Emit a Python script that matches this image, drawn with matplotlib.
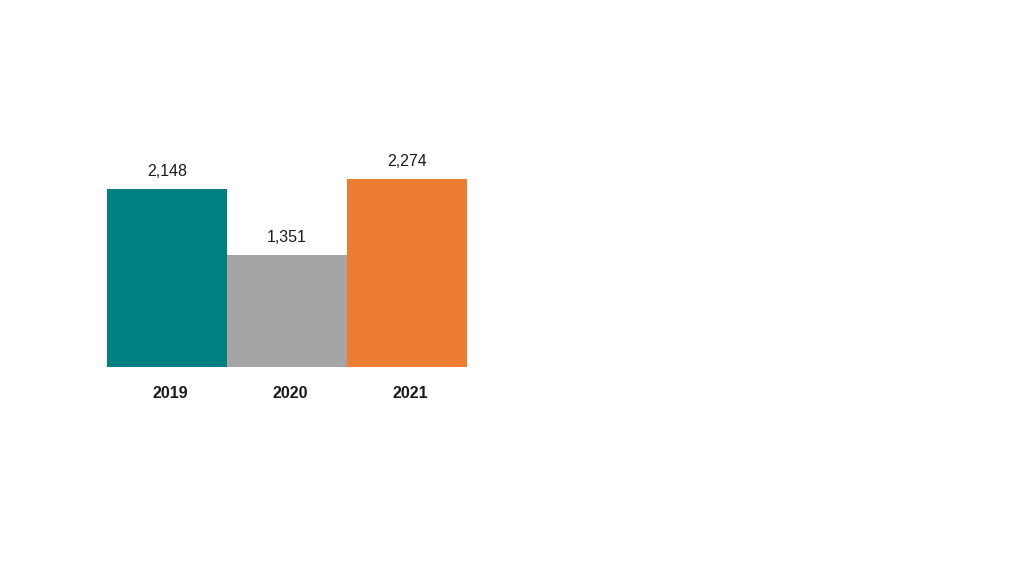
# Bar chart of yearly totals

import numpy as np
import matplotlib.pyplot as plt

plt.rcParams['font.family'] = ['Liberation Sans', 'DejaVu Sans']

# Data
years = ['2019', '2020', '2021']
values = [2148, 1351, 2274]
colors = ['#008080', '#A5A5A5', '#ED7D31']

fig = plt.figure(figsize=(10.24, 5.76), dpi=100)
# axes placed so the bars sit where they do on the slide
base_px = 367
top_px = 100
ax = fig.add_axes([107 / 1024, (576 - base_px) / 576, 360 / 1024, (base_px - top_px) / 576])

x = np.arange(len(years))
ax.bar(x, values, width=1.0, color=colors)

px_per_unit = 178 / 2148
ax.set_xlim(-0.5, len(years) - 0.5)
ax.set_ylim(0, (base_px - top_px) / px_per_unit)

# value labels above each bar
for xi, v in zip(x, values):
    ax.annotate(f'{v:,}', (xi, v), xytext=(0, 7), textcoords='offset points',
                ha='center', va='bottom', fontsize=11.5, color='#1a1a1a')

ax.set_xticks(x + 0.03)
ax.set_xticklabels(years, fontsize=11.5, fontweight='bold', color='#1a1a1a')
ax.tick_params(axis='x', length=0, pad=14)
ax.set_yticks([])
for s in ax.spines.values():
    s.set_visible(False)

fig.savefig('out.png', dpi=100)
